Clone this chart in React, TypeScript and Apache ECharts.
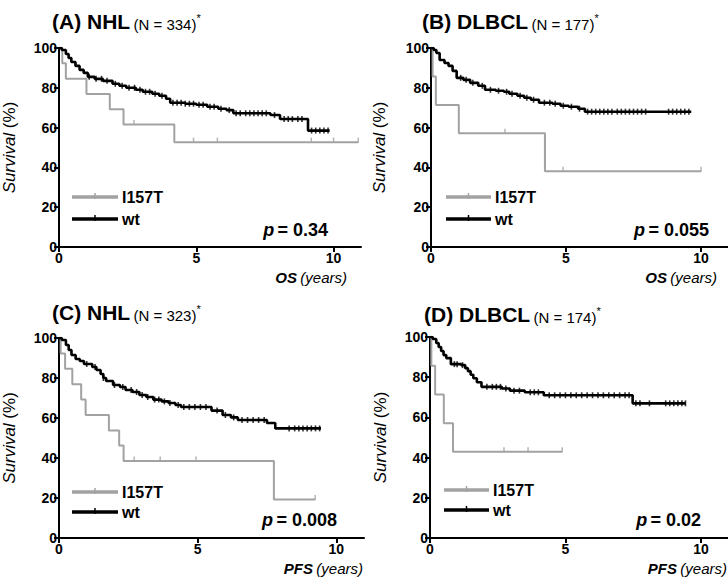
import React, { useEffect, useRef } from "react";
import * as echarts from "echarts";

type Pt = [number, number];

// ---------- data ----------
const panelLetters = ["(A)", "(B)", "(C)", "(D)"];
const panelGroups = ["NHL", "DLBCL", "NHL", "DLBCL"];
const panelN = ["(N = 334)", "(N = 177)", "(N = 323)", "(N = 174)"];
const pValues = ["0.34", "0.055", "0.008", "0.02"];
const endpoints = ["OS", "OS", "PFS", "PFS"];
const seriesNames = ["I157T", "wt"];
const xTickValues = [0, 5, 10];

// (A) NHL, OS
const mutA: Pt[] = [[0, 100], [0.12, 92.3], [0.25, 84.6], [1.0, 76.9], [1.85, 69.2], [2.35, 61.5], [4.2, 52.7], [10.9, 52.7]];
const mutCensA = [2.73, 4.9, 5.77, 9.19, 10.0, 10.9];
const wtA: Pt[] = [[0, 100], [0.1, 99], [0.25, 97], [0.35, 95], [0.45, 93], [0.6, 91], [0.75, 89], [0.9, 87.5], [1.05, 85.5], [1.3, 84.5], [1.6, 83.5], [1.95, 82], [2.2, 81], [2.45, 80], [2.8, 79], [3.05, 78], [3.4, 77], [3.65, 76], [3.9, 74.5], [4.05, 72.5], [4.6, 72], [5.0, 71.5], [5.4, 70.5], [5.8, 69.5], [6.1, 68.8], [6.35, 67.2], [7.7, 66.3], [8.05, 64.3], [9.07, 58.5], [9.86, 58.5]];
const wtCensA = [1.1, 1.35, 1.55, 1.75, 2.05, 2.3, 2.55, 2.75, 2.95, 3.15, 3.3, 3.5, 3.75, 4.15, 4.3, 4.45, 4.6, 4.75, 4.9, 5.1, 5.25, 5.5, 5.65, 5.9, 6.2, 6.45, 6.6, 6.8, 6.95, 7.1, 7.25, 7.4, 7.55, 7.85, 8.2, 8.35, 8.5, 8.7, 8.85, 9.2, 9.35, 9.5, 9.65, 9.8];

// (B) DLBCL, OS
const mutB: Pt[] = [[0, 100], [0.06, 85.7], [0.18, 71.4], [1.03, 57.1], [4.22, 38.1], [10.0, 38.1]];
const mutCensB = [2.74, 4.89, 10.0];
const wtB: Pt[] = [[0, 100], [0.1, 99], [0.2, 97.5], [0.32, 94], [0.5, 92.5], [0.65, 91], [0.8, 88.5], [0.95, 85], [1.2, 84], [1.45, 82.5], [1.75, 81], [2.0, 79], [2.4, 78.5], [2.7, 78], [2.9, 77], [3.2, 76], [3.45, 75], [3.7, 74], [4.0, 72.5], [4.5, 72], [4.8, 71], [5.1, 70.5], [5.45, 69.5], [5.7, 68], [9.64, 68]];
const wtCensB = [1.1, 1.3, 1.55, 1.9, 2.2, 2.5, 2.8, 3.0, 3.3, 3.55, 3.8, 4.2, 4.4, 4.6, 4.9, 5.2, 5.5, 5.8, 5.95, 6.1, 6.25, 6.4, 6.55, 6.7, 6.9, 7.05, 7.2, 7.35, 7.5, 7.65, 7.8, 7.95, 8.8, 8.95, 9.1, 9.25, 9.4, 9.55];

// (C) NHL, PFS
const mutC: Pt[] = [[0, 100], [0.06, 92.3], [0.22, 84.6], [0.48, 76.9], [0.8, 69.2], [0.96, 61.5], [1.8, 53.8], [2.17, 46.2], [2.33, 38.5], [7.75, 19.2], [9.24, 19.2]];
const mutCensC = [2.71, 3.65, 4.94, 9.24];
const wtC: Pt[] = [[0, 100], [0.1, 99], [0.25, 96.5], [0.35, 94], [0.45, 91.5], [0.6, 89.5], [0.75, 88.5], [0.9, 87], [1.2, 85.5], [1.35, 84], [1.5, 82], [1.6, 80], [1.7, 78.5], [1.95, 76.5], [2.2, 75.5], [2.4, 74], [2.65, 73], [2.9, 71.5], [3.15, 70.5], [3.4, 69.2], [3.7, 68.3], [3.95, 67.5], [4.2, 66.5], [4.4, 65.5], [5.5, 63.7], [5.9, 61.5], [6.2, 60.3], [6.45, 59], [7.5, 57.5], [7.8, 54.8], [9.45, 54.8]];
const wtCensC = [1.0, 1.3, 1.6, 2.0, 2.3, 2.6, 2.8, 3.0, 3.2, 3.45, 3.6, 3.8, 4.0, 4.3, 4.5, 4.7, 4.9, 5.1, 5.3, 5.7, 6.0, 6.3, 6.6, 6.8, 7.0, 7.2, 7.4, 8.3, 8.5, 8.65, 8.8, 8.95, 9.1, 9.25, 9.4];

// (D) DLBCL, PFS
const mutD: Pt[] = [[0, 100], [0.05, 85.7], [0.19, 71.4], [0.51, 57.1], [0.85, 42.9], [4.88, 42.9]];
const mutCensD = [2.73, 3.62, 4.88];
const wtD: Pt[] = [[0, 100], [0.1, 99], [0.23, 97], [0.32, 95], [0.41, 93], [0.5, 91], [0.6, 89.5], [0.77, 86.5], [1.15, 86], [1.3, 84.5], [1.4, 83], [1.5, 81.2], [1.6, 79.5], [1.73, 77.5], [1.9, 75.2], [2.65, 74.4], [2.95, 73.3], [3.5, 72.5], [4.2, 71], [7.48, 67], [9.43, 67]];
const wtCensD = [0.9, 1.0, 1.2, 2.1, 2.3, 2.45, 2.6, 2.8, 3.1, 3.3, 3.7, 3.85, 4.0, 4.4, 4.6, 4.8, 5.0, 5.2, 5.4, 5.6, 5.8, 6.0, 6.2, 6.4, 6.6, 6.8, 7.0, 7.2, 7.35, 7.6, 7.75, 8.1, 8.7, 8.85, 9.0, 9.15, 9.3, 9.43];

const mutCurves = [mutA, mutB, mutC, mutD];
const mutCensors = [mutCensA, mutCensB, mutCensC, mutCensD];
const wtCurves = [wtA, wtB, wtC, wtD];
const wtCensors = [wtCensA, wtCensB, wtCensC, wtCensD];

// ---------- layout / style ----------
const FONT = "Arial, 'Liberation Sans', Helvetica, sans-serif";
const GRAY = "#a2a2a2";
const BLACK = "#000000";

const grids = [
  { left: 58, top: 48, width: 303, height: 199 },
  { left: 431, top: 48, width: 301, height: 199 },
  { left: 58, top: 338, width: 306, height: 200 },
  { left: 430, top: 337, width: 307, height: 201 },
];
const yNameGap = [41, 43, 41, 41];
const titlePos = [[52, 20], [422, 20], [52, 311], [424, 313]];
const legendPos = [
  { x1: 72, x2: 118, y1: 197, y2: 219 },
  { x1: 446, x2: 491, y1: 197, y2: 219 },
  { x1: 72, x2: 118, y1: 492, y2: 512 },
  { x1: 444, x2: 489, y1: 490, y2: 510 },
];
const pPos = [[328, 230], [709, 230], [337, 520], [701, 520]];
const xNamePos = [[347, 277], [717, 277], [363, 568], [727, 568]];

function valueAt(curve: Pt[], t: number): number {
  let v = curve[0][1];
  for (const [x, y] of curve) {
    if (x <= t) v = y;
    else break;
  }
  return v;
}

function buildOption() {
  const xAxis: any[] = [];
  const yAxis: any[] = [];
  const series: any[] = [];
  const graphic: any[] = [];

  for (let i = 0; i < 4; i++) {
    xAxis.push({
      gridIndex: i,
      type: "value",
      min: 0,
      max: 11,
      axisLine: { show: true, onZero: false, lineStyle: { color: BLACK, width: 2 } },
      axisTick: { show: true, customValues: xTickValues, length: 5, lineStyle: { color: BLACK, width: 2 } },
      axisLabel: { customValues: xTickValues, color: BLACK, fontWeight: "bold", fontSize: 14, margin: 4, fontFamily: FONT },
      splitLine: { show: false },
    });
    yAxis.push({
      gridIndex: i,
      type: "value",
      min: 0,
      max: 100,
      interval: 20,
      axisLine: { show: true, onZero: false, lineStyle: { color: BLACK, width: 2 } },
      axisTick: { show: true, length: 5, lineStyle: { color: BLACK, width: 2 } },
      axisLabel: { color: BLACK, fontWeight: "bold", fontSize: 14, margin: 2, fontFamily: FONT },
      splitLine: { show: false },
      name: "{i|Survival} {n|(%)}",
      nameLocation: "middle",
      nameRotate: 90,
      nameGap: yNameGap[i],
      nameTextStyle: {
        fontSize: 17,
        fontFamily: FONT,
        color: BLACK,
        rich: {
          i: { fontSize: 17, fontStyle: "italic", fontFamily: FONT, color: BLACK },
          n: { fontSize: 17, fontFamily: FONT, color: BLACK },
        },
      },
    });

    series.push({
      name: seriesNames[0],
      type: "line",
      step: "end",
      xAxisIndex: i,
      yAxisIndex: i,
      data: mutCurves[i],
      symbol: "none",
      lineStyle: { color: GRAY, width: 2 },
      z: 2,
    });
    series.push({
      name: seriesNames[0] + " censored",
      type: "scatter",
      xAxisIndex: i,
      yAxisIndex: i,
      data: mutCensors[i].map((t) => [t, valueAt(mutCurves[i], t)]),
      symbol: "rect",
      symbolSize: [1.5, 5],
      symbolOffset: [0, -2],
      itemStyle: { color: GRAY },
      z: 2,
    });
    series.push({
      name: seriesNames[1],
      type: "line",
      step: "end",
      xAxisIndex: i,
      yAxisIndex: i,
      data: wtCurves[i],
      symbol: "none",
      lineStyle: { color: BLACK, width: 2.6 },
      z: 3,
    });
    series.push({
      name: seriesNames[1] + " censored",
      type: "scatter",
      xAxisIndex: i,
      yAxisIndex: i,
      data: wtCensors[i].map((t) => [t, valueAt(wtCurves[i], t)]),
      symbol: "rect",
      symbolSize: [1.6, 6],
      itemStyle: { color: BLACK },
      z: 3,
    });

    // title
    graphic.push({
      type: "text",
      x: titlePos[i][0],
      y: titlePos[i][1],
      style: {
        text: `{b|${panelLetters[i]} ${panelGroups[i]}} {s|${panelN[i]}}{u|*}`,
        verticalAlign: "middle",
        align: "left",
        fill: BLACK,
        rich: {
          b: { fontSize: 21, fontWeight: "bold", fontFamily: FONT, fill: BLACK, verticalAlign: "bottom", lineHeight: 24 },
          s: { fontSize: 15, fontFamily: FONT, fill: BLACK, verticalAlign: "bottom", lineHeight: 21 },
          u: { fontSize: 11, fontFamily: FONT, fill: BLACK, verticalAlign: "top", padding: [4, 0, 0, 0] },
        },
      },
    });

    // legend
    const lp = legendPos[i];
    const legendRows = [
      { y: lp.y1, color: GRAY, label: seriesNames[0] },
      { y: lp.y2, color: BLACK, label: seriesNames[1] },
    ];
    legendRows.forEach((r) => {
      graphic.push({
        type: "line",
        shape: { x1: lp.x1, y1: r.y, x2: lp.x2, y2: r.y },
        style: { stroke: r.color, lineWidth: 3.5 },
      });
      const mid = (lp.x1 + lp.x2) / 2;
      graphic.push({
        type: "line",
        shape: { x1: mid, y1: r.y - 4, x2: mid, y2: r.y + 2 },
        style: { stroke: r.color, lineWidth: 1.5 },
      });
      graphic.push({
        type: "text",
        x: lp.x2 + 4,
        y: r.y,
        style: {
          text: r.label,
          fontSize: 16,
          fontWeight: "bold",
          fontFamily: FONT,
          fill: BLACK,
          align: "left",
          verticalAlign: "middle",
        },
      });
    });

    // p value
    graphic.push({
      type: "text",
      x: pPos[i][0],
      y: pPos[i][1],
      style: {
        text: `{p|p} {n|= ${pValues[i]}}`,
        align: "right",
        verticalAlign: "middle",
        rich: {
          p: { fontSize: 18, fontWeight: "bold", fontStyle: "italic", fontFamily: FONT, fill: BLACK },
          n: { fontSize: 18, fontWeight: "bold", fontFamily: FONT, fill: BLACK },
        },
      },
    });

    // x-axis name
    graphic.push({
      type: "text",
      x: xNamePos[i][0],
      y: xNamePos[i][1],
      style: {
        text: `{b|${endpoints[i]}} {i|(years)}`,
        align: "right",
        verticalAlign: "middle",
        rich: {
          b: { fontSize: 15, fontWeight: "bold", fontStyle: "italic", fontFamily: FONT, fill: BLACK },
          i: { fontSize: 15, fontStyle: "italic", fontFamily: FONT, fill: BLACK },
        },
      },
    });
  }

  return {
    animation: false,
    backgroundColor: "#ffffff",
    grid: grids.map((g) => ({ ...g, containLabel: false })),
    xAxis,
    yAxis,
    series,
    graphic,
  };
}

export default function App() {
  const ref = useRef<HTMLDivElement>(null);
  useEffect(() => {
    if (!ref.current) return;
    const chart = echarts.init(ref.current, undefined, { renderer: "svg" });
    chart.setOption(buildOption() as any);
    return () => chart.dispose();
  }, []);
  return (
    <div
      ref={ref}
      style={{ position: "absolute", left: 0, top: 0, width: 728, height: 580, background: "#fff" }}
    />
  );
}
